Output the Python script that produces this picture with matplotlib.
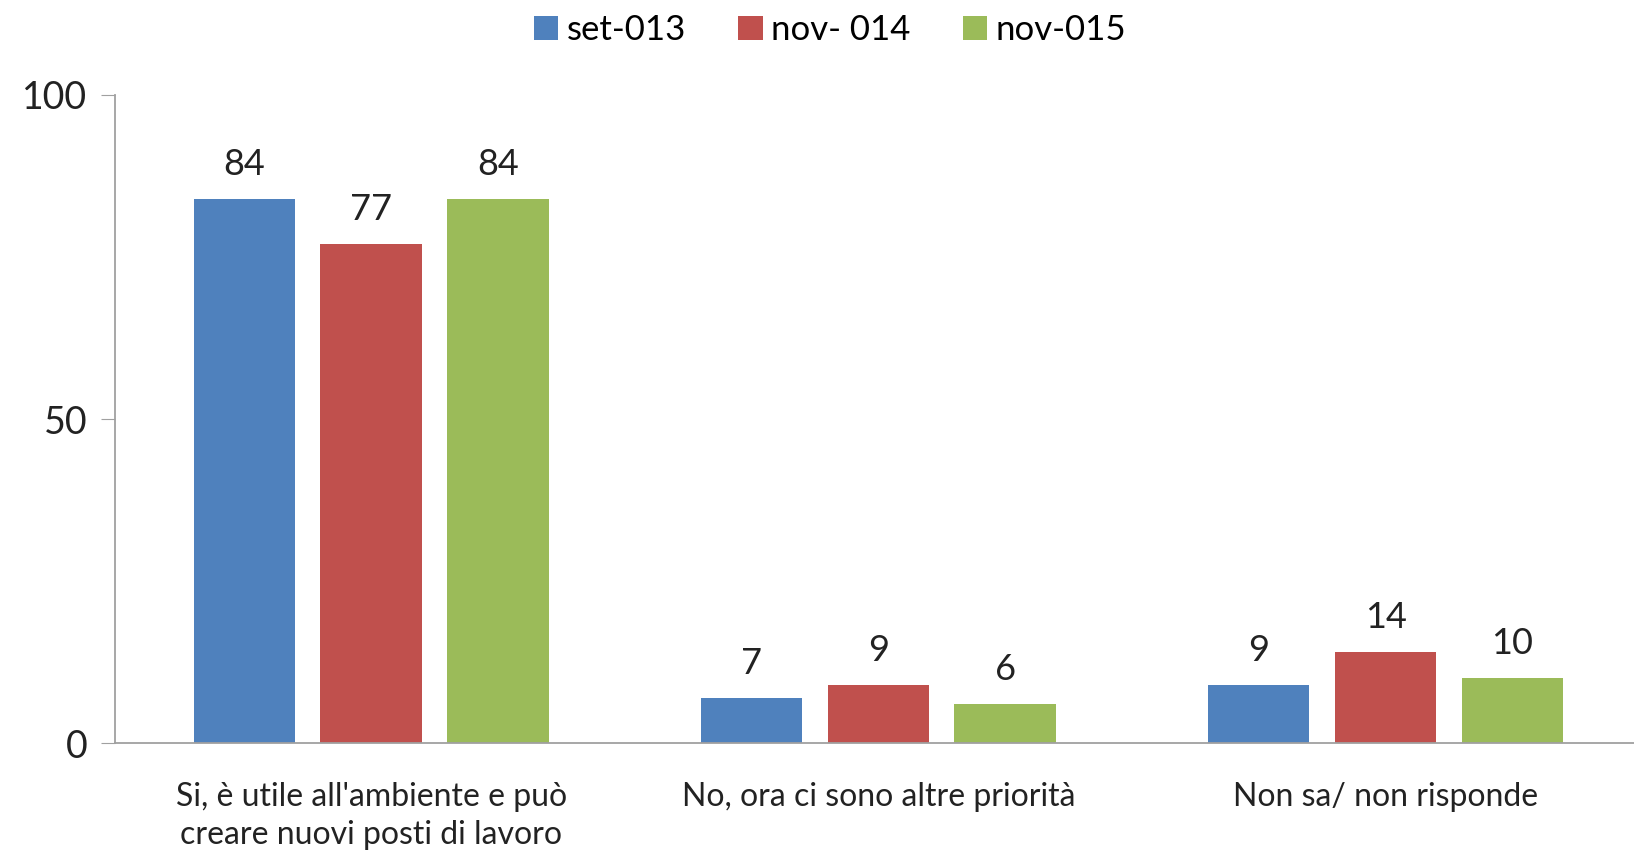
import numpy as np
import matplotlib
matplotlib.use("Agg")
import matplotlib.pyplot as plt

# survey answers, three waves
categories = ["Si, è utile all'ambiente e può\ncreare nuovi posti di lavoro",
              "No, ora ci sono altre priorità",
              "Non sa/ non risponde"]
series_names = ["set-013", "nov- 014", "nov-015"]
set013 = [84, 7, 9]
nov014 = [77, 9, 14]
nov015 = [84, 6, 10]
colors = ["#4F81BD", "#C0504D", "#9BBB59"]

plt.rcParams['font.family'] = ['Lato', 'DejaVu Sans']

fig = plt.figure(figsize=(16.34, 8.52), dpi=100)
ax = fig.add_axes([0.0704, 0.1279, 0.9296, 0.7606])

x = np.arange(len(categories))
width = 0.2
offsets = [-0.25, 0.0, 0.25]
for vals, name, col, off in zip([set013, nov014, nov015], series_names, colors, offsets):
    bars = ax.bar(x + off, vals, width, color=col, label=name)
    for b, v in zip(bars, vals):
        ax.text(b.get_x() + b.get_width() / 2, v + 2.8, str(v),
                ha='center', va='bottom', fontsize=26, color='#222222')

ax.set_xlim(-0.505, 2.49)
ax.set_ylim(0, 100)
ax.set_yticks([0, 50, 100])
ax.tick_params(axis='y', labelsize=27, length=10, color='#a0a0a0', pad=10,
               labelcolor='#222222')
ax.set_xticks(x)
ax.set_xticklabels(categories, fontsize=23, color='#222222', linespacing=1.35)
ax.tick_params(axis='x', length=0, pad=28)

for s in ['top', 'right']:
    ax.spines[s].set_visible(False)
ax.spines['left'].set_color('#a0a0a0')
ax.spines['bottom'].set_color('#a0a0a0')
ax.spines['left'].set_linewidth(1.3)
ax.spines['bottom'].set_linewidth(1.3)

fig.legend(loc='upper center', bbox_to_anchor=(0.508, 1.02), ncol=3,
           frameon=False, fontsize=25, handlelength=0.7, handleheight=0.7,
           handletextpad=0.25, columnspacing=1.5)

fig.savefig("out.png", dpi=100)
